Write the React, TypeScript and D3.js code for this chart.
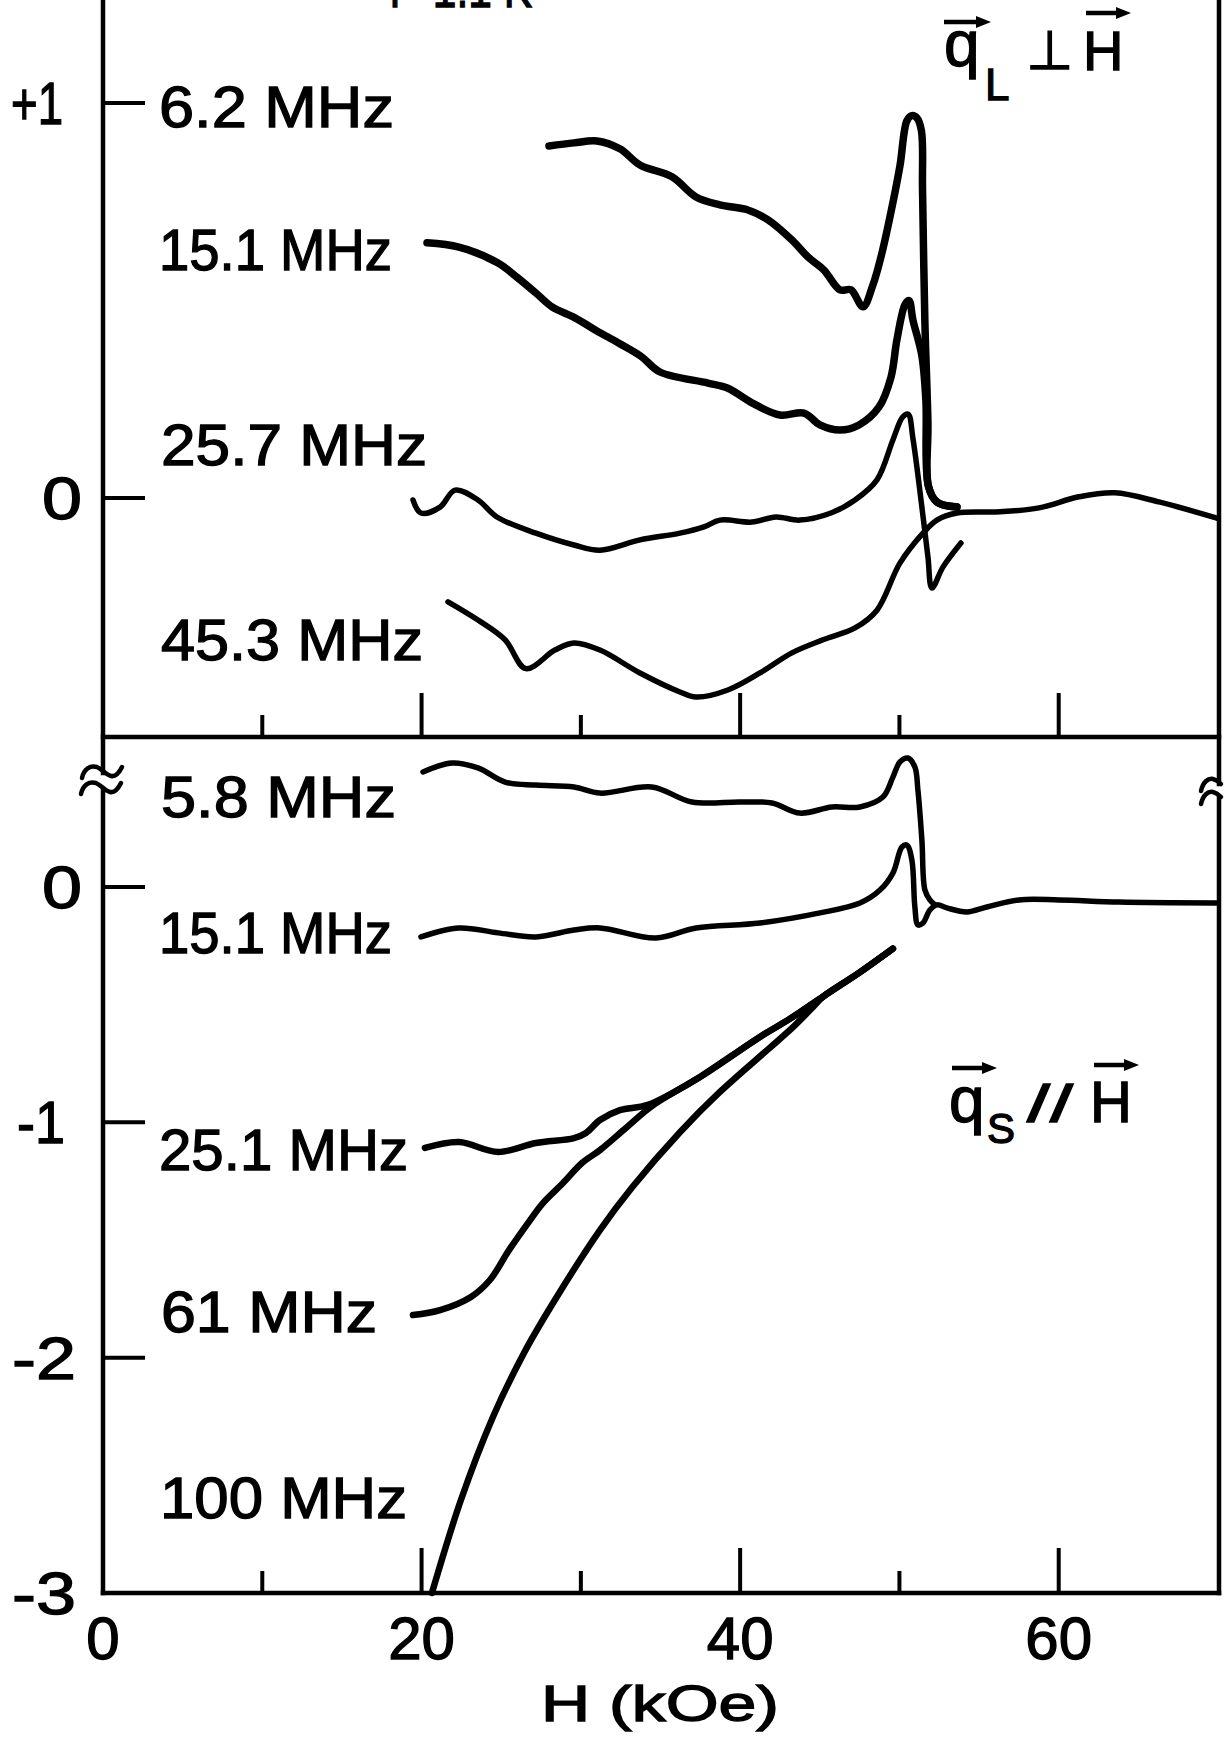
import React from 'react';
import * as d3 from 'd3';

// ---------- data (H in kOe, attenuation change in relative units) ----------
const xMajorTicks = [0, 20, 40, 60];
const xMinorTicks = [10, 30, 50];
const xTickLabels = ['0', '20', '40', '60'];
const upperTicks = [1, 0];
const upperTickLabels = ['+1', '0'];
const lowerTicks = [0, -1, -2, -3];
const lowerTickLabels = ['0', '-1', '-2', '-3'];

const upperLabels = ['6.2 MHz', '15.1 MHz', '25.7 MHz', '45.3 MHz'];
const lowerLabels = ['5.8 MHz', '15.1 MHz', '25.1 MHz', '61 MHz', '100 MHz'];

const s6_2: [number, number][] = [
  [28.0, 0.891], [29.57, 0.899], [31.01, 0.904], [32.45, 0.884], [33.71, 0.843],
  [35.72, 0.813], [37.23, 0.762], [38.73, 0.742], [40.49, 0.729], [41.75, 0.704],
  [43.25, 0.653], [44.26, 0.61], [45.26, 0.577], [46.27, 0.527], [46.96, 0.527],
  [47.71, 0.484], [48.34, 0.54], [48.9, 0.62], [49.45, 0.72], [50.03, 0.84],
  [50.47, 0.955], [50.78, 0.968], [51.1, 0.962], [51.38, 0.93], [51.45, 0.78],
  [51.6, 0.443], [51.79, 0.19], [51.82, 0.03], [52.35, -0.01], [53.61, -0.023],
];
const s15_1u: [number, number][] = [
  [20.34, 0.646], [22.35, 0.635], [24.8, 0.595], [25.99, 0.559], [27.18, 0.519],
  [28.19, 0.484], [29.63, 0.456], [31.01, 0.423], [32.39, 0.392], [33.77, 0.359],
  [34.97, 0.319], [37.98, 0.291], [39.23, 0.278], [40.74, 0.241], [42.5, 0.21],
  [44.01, 0.215], [45.01, 0.185], [46.27, 0.172], [47.46, 0.185], [48.71, 0.23],
  [49.47, 0.306], [49.84, 0.4], [50.35, 0.49], [50.6, 0.5], [50.85, 0.45],
  [51.41, 0.36], [51.66, 0.248], [51.82, 0.03], [52.35, -0.01], [53.61, -0.023],
];
const s25_7: [number, number][] = [
  [19.46, -0.005], [19.96, -0.038], [21.16, -0.023], [22.1, 0.02], [23.54, -0.005],
  [24.73, -0.048], [27.18, -0.089], [29.57, -0.119], [31.2, -0.132], [33.71, -0.106],
  [36.22, -0.089], [37.73, -0.073], [38.73, -0.056], [40.74, -0.061], [42.25, -0.048],
  [43.75, -0.056], [45.7, -0.038], [47.21, -0.005], [48.59, 0.046], [49.59, 0.147],
  [50.2, 0.205], [50.55, 0.212], [50.85, 0.15], [51.41, -0.023], [51.79, -0.149],
  [52.04, -0.228], [52.73, -0.175], [53.86, -0.114],
];
const s45_3: [number, number][] = [
  [21.66, -0.263], [23.54, -0.309], [25.24, -0.359], [26.55, -0.432], [28.37, -0.385],
  [29.57, -0.367], [31.2, -0.385], [33.71, -0.443], [36.22, -0.491], [37.23, -0.504],
  [39.23, -0.486], [41.24, -0.443], [43.25, -0.392], [45.2, -0.359], [47.21, -0.329],
  [48.59, -0.284], [50.03, -0.165], [51.48, -0.089], [52.35, -0.056], [53.61, -0.038],
  [56.31, -0.035], [58.76, -0.025], [61.27, 0.003], [63.53, 0.013], [66.29, -0.01],
  [69.93, -0.051],
];

const s5_8: [number, number][] = [
  [20.09, 0.489], [21.91, 0.527], [23.54, 0.506], [25.24, 0.446], [27.18, 0.433],
  [29.57, 0.425], [31.2, 0.399], [34.46, 0.425], [36.97, 0.361], [39.99, 0.361],
  [42.0, 0.357], [43.75, 0.314], [45.76, 0.34], [47.52, 0.34], [48.96, 0.382],
  [49.59, 0.467], [50.03, 0.531], [50.53, 0.548], [50.97, 0.51], [51.16, 0.412],
  [51.41, 0.2], [51.6, -0.013], [51.91, -0.055], [52.23, -0.076],
];
const s15_1l: [number, number][] = [
  [19.96, -0.212], [22.35, -0.174], [24.8, -0.195], [27.18, -0.212], [29.57, -0.183],
  [31.2, -0.174], [34.71, -0.217], [37.23, -0.174], [41.24, -0.153], [45.01, -0.11],
  [47.52, -0.068], [48.78, -0.013], [49.59, 0.059], [50.16, 0.17], [50.47, 0.178],
  [50.78, 0.115], [50.97, -0.085], [51.16, -0.161], [51.48, -0.153], [51.91, -0.098],
  [52.35, -0.076], [52.98, -0.089], [54.24, -0.106], [55.49, -0.085], [57.5, -0.055],
  [60.01, -0.055], [63.78, -0.064], [69.93, -0.068],
];
const s25_1: [number, number][] = [
  [20.21, -1.109], [22.35, -1.084], [24.8, -1.126], [27.18, -1.088], [29.57, -1.067],
  [30.32, -1.045], [31.2, -0.99], [32.45, -0.948], [34.21, -0.926], [37.48, -0.807],
  [41.24, -0.637], [43.25, -0.555], [45.26, -0.463], [47.46, -0.365], [49.59, -0.262],
];
const s61: [number, number][] = [
  [19.46, -1.819], [21.16, -1.798], [23.1, -1.742], [24.29, -1.67], [25.49, -1.543],
  [26.68, -1.428], [27.62, -1.343], [28.88, -1.258], [30.07, -1.173], [31.2, -1.118],
  [32.83, -1.024], [34.46, -0.931], [37.48, -0.807], [41.24, -0.637], [43.25, -0.555],
  [45.26, -0.463], [47.46, -0.365], [49.59, -0.262],
];
const s100: [number, number][] = [
  [20.65, -3.0], [22.47, -2.605], [24.48, -2.252], [26.43, -1.98], [28.37, -1.755],
  [31.2, -1.458], [33.21, -1.277], [36.22, -1.042], [38.73, -0.871], [41.75, -0.69],
  [43.25, -0.6], [44.5, -0.515], [45.26, -0.463], [47.46, -0.365], [49.59, -0.262],
];

const upperSeries = [s6_2, s15_1u, s25_7, s45_3];
const lowerSeries = [s5_8, s15_1l, s25_1, s61, s100];

// ---------- layout ----------
const W = 1226;
const HT = 1738;
const X0 = 103;
const X1 = 1218;
const PANEL_SPLIT = 737;
const BOTTOM = 1593;
const FONT = "'Liberation Sans', Arial, Helvetica, sans-serif";
const TXT_STROKE = 1.3;

const upperWidths = [7.5, 7.5, 5.5, 5.5];
const lowerWidths = [5.5, 5.5, 6.5, 6.5, 6.5];

// label boxes: [x, baseline, width]
const upperLabelPos = [[159, 127, 235], [159, 270, 233], [161, 465, 266], [161, 660, 262]];
const lowerLabelPos = [[161, 817, 235], [159, 953, 233], [159, 1170, 249], [161, 1332, 216], [160, 1518, 247]];
// y tick label boxes: [x, width]
const upperTickBox = [[11, 52], [42, 40]];
const lowerTickBox = [[42, 40], [17, 48], [12, 64], [12, 64]];

export default function App() {
  const x = d3.scaleLinear().domain([0, 70]).range([X0, X1]);
  const yU = d3.scaleLinear().domain([0, 1]).range([498, 103]);
  const yL = d3.scaleLinear().domain([0, -3]).range([887, BOTTOM]);

  const lineU = d3.line<[number, number]>().x(d => x(d[0])).y(d => yU(d[1])).curve(d3.curveCatmullRom.alpha(0.5));
  const lineL = d3.line<[number, number]>().x(d => x(d[0])).y(d => yL(d[1])).curve(d3.curveCatmullRom.alpha(0.5));

  const axisW = 4.5;
  const xRight = x(70) + 1;

  return (
    <svg width={W} height={HT} viewBox={`0 0 ${W} ${HT}`}
      style={{ position: 'absolute', left: 0, top: 0, background: '#fff' }}
      fontFamily={FONT}>
      <rect x={0} y={0} width={W} height={HT} fill="#fff" />

      {/* partial title cut off at top edge, as in the reference */}
      <text x={382} y={7} fontSize={54} textLength={150} lengthAdjust="spacingAndGlyphs" fill="#000"
        stroke="#000" strokeWidth={TXT_STROKE}>T=1.1 K</text>

      {/* frame */}
      <g stroke="#000" strokeWidth={axisW} fill="none" strokeLinecap="square">
        <line x1={X0} y1={0} x2={X0} y2={773} />
        <line x1={X0} y1={789} x2={X0} y2={BOTTOM} />
        <line x1={xRight} y1={0} x2={xRight} y2={784} />
        <line x1={xRight} y1={797} x2={xRight} y2={BOTTOM} />
        <line x1={X0} y1={PANEL_SPLIT} x2={xRight} y2={PANEL_SPLIT} />
        <line x1={X0} y1={BOTTOM} x2={xRight} y2={BOTTOM} />
      </g>

      {/* break marks */}
      <g stroke="#000" strokeWidth={4.5} fill="none" strokeLinecap="round">
        <path d="M82,778 C84,769 90,765 97,767 C102,769 106,775 111,776 C116,777 119,773 122,767" />
        <path d="M81,794 C83,785 89,781 96,783 C101,785 105,791 110,792 C115,793 118,789 121,783" />
        <path d="M1201,791 C1203,782 1208,778 1213,779 C1217,780 1219,782 1221,784" />
        <path d="M1201,804 C1203,795 1208,791 1213,792 C1217,793 1219,795 1221,797" />
      </g>

      {/* ticks */}
      <g stroke="#000" strokeWidth={4}>
        {xMajorTicks.filter(t => t > 0).map(t => (
          <line key={'um' + t} x1={x(t)} x2={x(t)} y1={PANEL_SPLIT} y2={PANEL_SPLIT - 44} />
        ))}
        {xMinorTicks.map(t => (
          <line key={'un' + t} x1={x(t)} x2={x(t)} y1={PANEL_SPLIT} y2={PANEL_SPLIT - 22} />
        ))}
        {xMajorTicks.filter(t => t > 0).map(t => (
          <line key={'bm' + t} x1={x(t)} x2={x(t)} y1={BOTTOM} y2={BOTTOM - 45} />
        ))}
        {xMinorTicks.map(t => (
          <line key={'bn' + t} x1={x(t)} x2={x(t)} y1={BOTTOM} y2={BOTTOM - 22} />
        ))}
        {upperTicks.map(t => (
          <line key={'yu' + t} x1={X0} x2={X0 + 42} y1={yU(t)} y2={yU(t)} />
        ))}
        {lowerTicks.map(t => (
          <line key={'yl' + t} x1={X0} x2={X0 + 42} y1={yL(t)} y2={yL(t)} />
        ))}
      </g>

      <g fill="#000" stroke="#000" strokeWidth={TXT_STROKE}>
        {/* x tick labels */}
        {xMajorTicks.map((t, i) => (
          <text key={'xl' + t} x={x(t)} y={1659} fontSize={60} textAnchor="middle">{xTickLabels[i]}</text>
        ))}
        <text x={660} y={1721} fontSize={50} textAnchor="middle" textLength={238} lengthAdjust="spacingAndGlyphs">H (kOe)</text>

        {/* y tick labels */}
        {upperTicks.map((t, i) => (
          <text key={'ytu' + t} x={upperTickBox[i][0]} y={yU(t) + 21} fontSize={60}
            textLength={upperTickBox[i][1]} lengthAdjust="spacingAndGlyphs">{upperTickLabels[i]}</text>
        ))}
        {lowerTicks.map((t, i) => (
          <text key={'ytl' + t} x={lowerTickBox[i][0]} y={yL(t) + 21} fontSize={60}
            textLength={lowerTickBox[i][1]} lengthAdjust="spacingAndGlyphs">{lowerTickLabels[i]}</text>
        ))}

        {/* curve labels */}
        {upperLabels.map((l, i) => (
          <text key={'ul' + i} x={upperLabelPos[i][0]} y={upperLabelPos[i][1]} fontSize={58}
            textLength={upperLabelPos[i][2]} lengthAdjust="spacingAndGlyphs">{l}</text>
        ))}
        {lowerLabels.map((l, i) => (
          <text key={'ll' + i} x={lowerLabelPos[i][0]} y={lowerLabelPos[i][1]} fontSize={58}
            textLength={lowerLabelPos[i][2]} lengthAdjust="spacingAndGlyphs">{l}</text>
        ))}
      </g>

      {/* curves */}
      <g fill="none" stroke="#000" strokeLinejoin="round" strokeLinecap="round">
        {upperSeries.map((s, i) => (
          <path key={'u' + i} d={lineU(s) || ''} strokeWidth={upperWidths[i]} />
        ))}
        {lowerSeries.map((s, i) => (
          <path key={'l' + i} d={lineL(s) || ''} strokeWidth={lowerWidths[i]} />
        ))}
      </g>

      {/* q_L ⊥ H */}
      <g fill="#000">
        <text x={944} y={66} fontSize={64} stroke="#000" strokeWidth={TXT_STROKE}>q</text>
        <text x={985} y={100} fontSize={44} stroke="#000" strokeWidth={TXT_STROKE}>L</text>
        <text x={1026} y={69} fontSize={54} fontFamily="'DejaVu Sans', sans-serif" stroke="#000" strokeWidth={TXT_STROKE}>⊥</text>
        <text x={1083} y={70} fontSize={56} stroke="#000" strokeWidth={TXT_STROKE}>H</text>
        <line x1={944} y1={22} x2={978} y2={22} stroke="#000" strokeWidth={4.5} />
        <path d="M976,16 L991,22 L976,28 Z" />
        <line x1={1086} y1={13} x2={1118} y2={13} stroke="#000" strokeWidth={4.5} />
        <path d="M1116,7 L1131,13 L1116,19 Z" />
      </g>

      {/* q_S // H */}
      <g fill="#000">
        <text x={949} y={1122} fontSize={64} stroke="#000" strokeWidth={TXT_STROKE}>q</text>
        <text x={987} y={1143} fontSize={42} stroke="#000" strokeWidth={TXT_STROKE}>S</text>
        <text x={1027} y={1122} fontSize={52} textLength={46} lengthAdjust="spacingAndGlyphs" stroke="#000" strokeWidth={TXT_STROKE}>//</text>
        <text x={1090} y={1122} fontSize={58} stroke="#000" strokeWidth={TXT_STROKE}>H</text>
        <line x1={952} y1={1068} x2={984} y2={1068} stroke="#000" strokeWidth={4.5} />
        <path d="M982,1062 L997,1068 L982,1074 Z" />
        <line x1={1094} y1={1065} x2={1126} y2={1065} stroke="#000" strokeWidth={4.5} />
        <path d="M1124,1059 L1139,1065 L1124,1071 Z" />
      </g>
    </svg>
  );
}
